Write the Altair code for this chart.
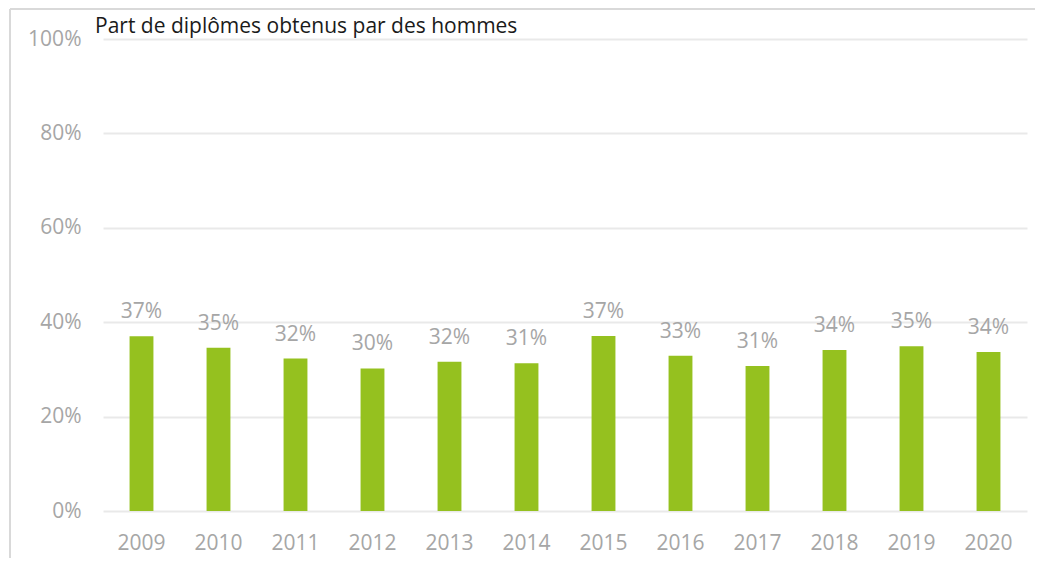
import altair as alt
import pandas as pd

years = ["2009", "2010", "2011", "2012", "2013", "2014", "2015", "2016", "2017", "2018", "2019", "2020"]
shares = [0.370, 0.346, 0.323, 0.302, 0.316, 0.313, 0.371, 0.329, 0.307, 0.341, 0.349, 0.337]
title_text = "Part de diplômes obtenus par des hommes"

df = pd.DataFrame({"year": years, "share": shares})

FONT = "Open Sans"
GREY = "#a6a6a6"
GRID = "#e9e9e9"

x = alt.X("year:N", sort=years,
          scale=alt.Scale(paddingInner=0.69, paddingOuter=0.345),
          axis=alt.Axis(title=None, labelAngle=0, labelFont=FONT, labelFontSize=21,
                        labelColor=GREY, labelPadding=21, ticks=False, domain=False))
y = alt.Y("share:Q", scale=alt.Scale(domain=[0, 1], nice=False),
          axis=alt.Axis(title=None, format=".0%", values=[0, 0.2, 0.4, 0.6, 0.8, 1.0],
                        labelFont=FONT, labelFontSize=21, labelColor=GREY, labelPadding=22,
                        ticks=False, domain=False, gridColor=GRID, gridWidth=2))

base = alt.Chart(df)
bars = base.mark_bar(color="#95c11f").encode(x=x, y=y)
labels = base.mark_text(font=FONT, fontSize=21, color=GREY, baseline="alphabetic", dy=-18).encode(
    x=alt.X("year:N", sort=years), y="share:Q", text=alt.Text("share:Q", format=".0%"))

frame_left = alt.Chart(df).mark_rule(color="#d9d9d9", strokeWidth=1.5).encode(
    x=alt.value(-93), y=alt.value(-30), y2=alt.value(530))
frame_top = alt.Chart(df).mark_rule(color="#d9d9d9", strokeWidth=1.5).encode(
    x=alt.value(-93), x2=alt.value(960), y=alt.value(-30))
title = alt.Chart(pd.DataFrame({"t": [title_text]})).mark_text(
    font=FONT, fontSize=21, color="#1a1a1a", align="left", baseline="alphabetic").encode(
    x=alt.value(-8), y=alt.value(-6), text="t:N")

chart = alt.layer(frame_left, frame_top, bars, labels, title).properties(
    width=924, height=472,
    autosize=alt.AutoSizeParams(type="none"),
    padding={"left": 95, "top": 31, "right": 8, "bottom": 47},
).configure_view(stroke=None).configure_axis(grid=True).configure_axisX(grid=False)

chart.save("out.html", embed_options={"renderer": "svg", "actions": False})
